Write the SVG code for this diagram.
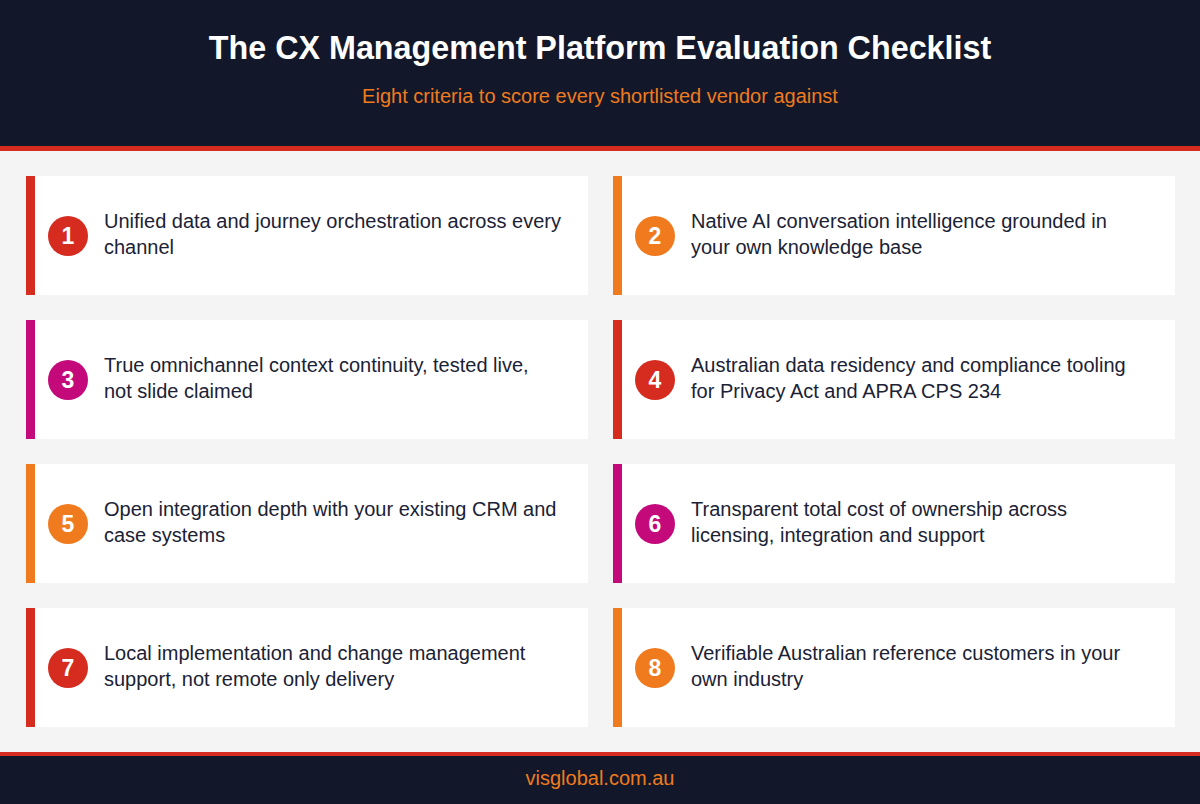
<svg xmlns="http://www.w3.org/2000/svg" width="1200" height="804" viewBox="0 0 1200 804">
<style>
.card{fill:#fff}
.t{font-family:"Liberation Sans",Arial,sans-serif;font-size:20px;fill:#1b2235}
.n{font-family:"Liberation Sans",Arial,sans-serif;font-size:23px;font-weight:bold;fill:#fff;text-anchor:middle}
.r{fill:#d62b1f}.o{fill:#f07b1f}.m{fill:#c40a7a}
</style>
<rect width="1200" height="804" fill="#f4f4f4"/>
<rect width="1200" height="146" fill="#121829"/>
<rect y="146" width="1200" height="5" fill="#d62b1f"/>
<text x="600" y="59" text-anchor="middle" font-family="Liberation Sans,Arial,sans-serif" font-size="32.3" font-weight="bold" fill="#fff">The CX Management Platform Evaluation Checklist</text>
<text x="600" y="103" text-anchor="middle" font-family="Liberation Sans,Arial,sans-serif" font-size="20" fill="#f07b1f">Eight criteria to score every shortlisted vendor against</text>
<rect y="752" width="1200" height="4" fill="#d62b1f"/>
<rect y="756" width="1200" height="48" fill="#121829"/>
<text x="600" y="785" text-anchor="middle" font-family="Liberation Sans,Arial,sans-serif" font-size="20" fill="#f07b1f">visglobal.com.au</text>
<g id="c1"><rect class="card" x="26" y="176" width="562" height="119"/><rect class="r" x="26" y="176" width="9" height="119"/><circle class="r" cx="68" cy="236" r="20"/><text class="n" x="68" y="244">1</text><text class="t" x="104" y="228">Unified data and journey orchestration across every</text><text class="t" x="104" y="254">channel</text></g>
<g id="c2"><rect class="card" x="613" y="176" width="562" height="119"/><rect class="o" x="613" y="176" width="9" height="119"/><circle class="o" cx="655" cy="236" r="20"/><text class="n" x="655" y="244">2</text><text class="t" x="691" y="228">Native AI conversation intelligence grounded in</text><text class="t" x="691" y="254">your own knowledge base</text></g>
<g id="c3"><rect class="card" x="26" y="320" width="562" height="119"/><rect class="m" x="26" y="320" width="9" height="119"/><circle class="m" cx="68" cy="380" r="20"/><text class="n" x="68" y="388">3</text><text class="t" x="104" y="372">True omnichannel context continuity, tested live,</text><text class="t" x="104" y="398">not slide claimed</text></g>
<g id="c4"><rect class="card" x="613" y="320" width="562" height="119"/><rect class="r" x="613" y="320" width="9" height="119"/><circle class="r" cx="655" cy="380" r="20"/><text class="n" x="655" y="388">4</text><text class="t" x="691" y="372">Australian data residency and compliance tooling</text><text class="t" x="691" y="398">for Privacy Act and APRA CPS 234</text></g>
<g id="c5"><rect class="card" x="26" y="464" width="562" height="119"/><rect class="o" x="26" y="464" width="9" height="119"/><circle class="o" cx="68" cy="524" r="20"/><text class="n" x="68" y="532">5</text><text class="t" x="104" y="516">Open integration depth with your existing CRM and</text><text class="t" x="104" y="542">case systems</text></g>
<g id="c6"><rect class="card" x="613" y="464" width="562" height="119"/><rect class="m" x="613" y="464" width="9" height="119"/><circle class="m" cx="655" cy="524" r="20"/><text class="n" x="655" y="532">6</text><text class="t" x="691" y="516">Transparent total cost of ownership across</text><text class="t" x="691" y="542">licensing, integration and support</text></g>
<g id="c7"><rect class="card" x="26" y="608" width="562" height="119"/><rect class="r" x="26" y="608" width="9" height="119"/><circle class="r" cx="68" cy="668" r="20"/><text class="n" x="68" y="676">7</text><text class="t" x="104" y="660">Local implementation and change management</text><text class="t" x="104" y="686">support, not remote only delivery</text></g>
<g id="c8"><rect class="card" x="613" y="608" width="562" height="119"/><rect class="o" x="613" y="608" width="9" height="119"/><circle class="o" cx="655" cy="668" r="20"/><text class="n" x="655" y="676">8</text><text class="t" x="691" y="660">Verifiable Australian reference customers in your</text><text class="t" x="691" y="686">own industry</text></g>
<g id="connectors"/>
</svg>
